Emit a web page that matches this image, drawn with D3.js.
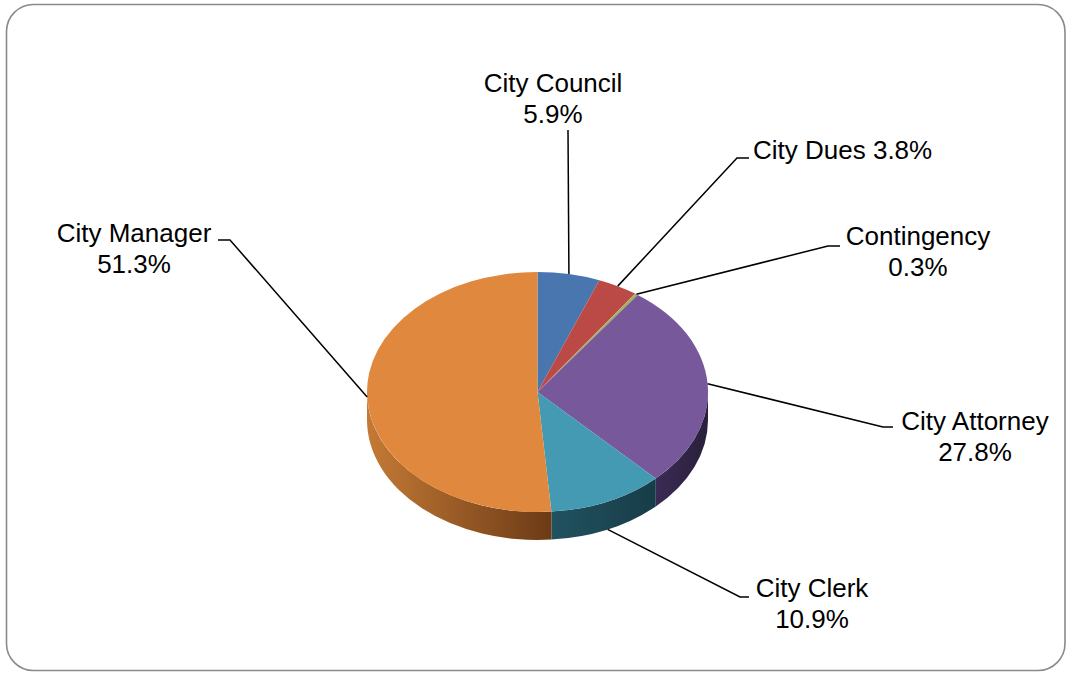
<!DOCTYPE html>
<html>
<head>
<meta charset="utf-8">
<script src="https://cdn.jsdelivr.net/npm/d3@7"></script>
<style>
  html, body { margin: 0; padding: 0; background: #fff; }
  svg { display: block; }
  .label { font-family: "Liberation Sans", Arial, sans-serif; font-size: 26px; fill: #000; }
</style>
</head>
<body>
<svg id="chart" width="1067" height="673"></svg>
<script>
const categories = ["City Council", "City Dues", "Contingency", "City Attorney", "City Clerk", "City Manager"];
const values = [5.9, 3.8, 0.3, 27.8, 10.9, 51.3];
const topColors = ["#4a76b0", "#bb4a46", "#a3b062", "#77589a", "#4499b3", "#e0883d"];
const sideColors = [
  ["#2c4a70", "#22395a"],
  ["#7a2c2a", "#5e2220"],
  ["#6a7438", "#52592a"],
  ["#3a2b54", "#2a1f3c"],
  ["#215260", "#173c47"],
  ["#c47a35", "#6c3a16"],
];

// label layout: text position, anchor, line break, leader elbow
const labelLayout = [
  { x: 553, y: 92, anchor: "middle", lines: 2, elbow: [[568, 130]], base: false },
  { x: 753, y: 159, anchor: "start", lines: 1, elbow: [[737, 158], [749, 158]], base: false },
  { x: 918, y: 245, anchor: "middle", lines: 2, elbow: [[828, 246], [840, 246]], base: false },
  { x: 975, y: 430, anchor: "middle", lines: 2, elbow: [[883, 427], [893, 427]], base: false },
  { x: 812, y: 597, anchor: "middle", lines: 2, elbow: [[740, 597], [749, 597]], base: true },
  { x: 134, y: 242, anchor: "middle", lines: 2, elbow: [[230, 240], [218, 240]], base: false },
];

const cx = 537.5, cy = 392, rx = 170.5, ry = 120, depth = 28;
const lineH = 30.5;

const svg = d3.select("#chart");

svg.append("rect")
  .attr("x", 6.5).attr("y", 4.5)
  .attr("width", 1058.5).attr("height", 666)
  .attr("rx", 27).attr("ry", 27)
  .attr("fill", "#fff")
  .attr("stroke", "#8a8a8a")
  .attr("stroke-width", 1.6);

const arcs = d3.pie().sort(null).value(d => d)(values);

const pt = (a, dy = 0) => [cx + rx * Math.sin(a), cy - ry * Math.cos(a) + dy];

const defs = svg.append("defs");

// side walls (front half only)
const wallG = svg.append("g");
arcs.forEach((d, i) => {
  const s = Math.max(d.startAngle, Math.PI / 2);
  const e = Math.min(d.endAngle, Math.PI * 1.5);
  if (e <= s) return;
  const [x0, y0] = pt(s), [x1, y1] = pt(e);
  const grad = defs.append("linearGradient")
    .attr("id", "side-" + i)
    .attr("gradientUnits", "userSpaceOnUse")
    .attr("x1", Math.min(x0, x1)).attr("x2", Math.max(x0, x1))
    .attr("y1", 0).attr("y2", 0);
  grad.append("stop").attr("offset", "0%").attr("stop-color", sideColors[i][0]);
  grad.append("stop").attr("offset", "100%").attr("stop-color", sideColors[i][1]);
  wallG.append("path")
    .attr("d", `M${x0},${y0} A${rx},${ry} 0 0 1 ${x1},${y1} L${x1},${y1 + depth} A${rx},${ry} 0 0 0 ${x0},${y0 + depth} Z`)
    .attr("fill", `url(#side-${i})`);
});

// top faces
const arcGen = d3.arc().innerRadius(0).outerRadius(rx);
svg.append("g")
  .attr("transform", `translate(${cx},${cy}) scale(1,${ry / rx})`)
  .selectAll("path")
  .data(arcs)
  .join("path")
  .attr("d", arcGen)
  .attr("fill", (d, i) => topColors[i]);

// leader lines
const line = d3.line();
arcs.forEach((d, i) => {
  const mid = (d.startAngle + d.endAngle) / 2;
  const L = labelLayout[i];
  const anchor = pt(mid, L.base ? depth : 0);
  svg.append("path")
    .attr("d", line([anchor, ...L.elbow]))
    .attr("fill", "none")
    .attr("stroke", "#000")
    .attr("stroke-width", 1.5);
});

// labels
arcs.forEach((d, i) => {
  const L = labelLayout[i];
  const pct = d3.format(".1f")(values[i]) + "%";
  const t = svg.append("text")
    .attr("class", "label")
    .attr("text-anchor", L.anchor)
    .attr("x", L.x).attr("y", L.y);
  if (L.lines === 1) {
    t.text(categories[i] + " " + pct);
  } else {
    t.append("tspan").attr("x", L.x).attr("y", L.y).text(categories[i]);
    t.append("tspan").attr("x", L.x).attr("y", L.y + lineH).text(pct);
  }
});
</script>
</body>
</html>
